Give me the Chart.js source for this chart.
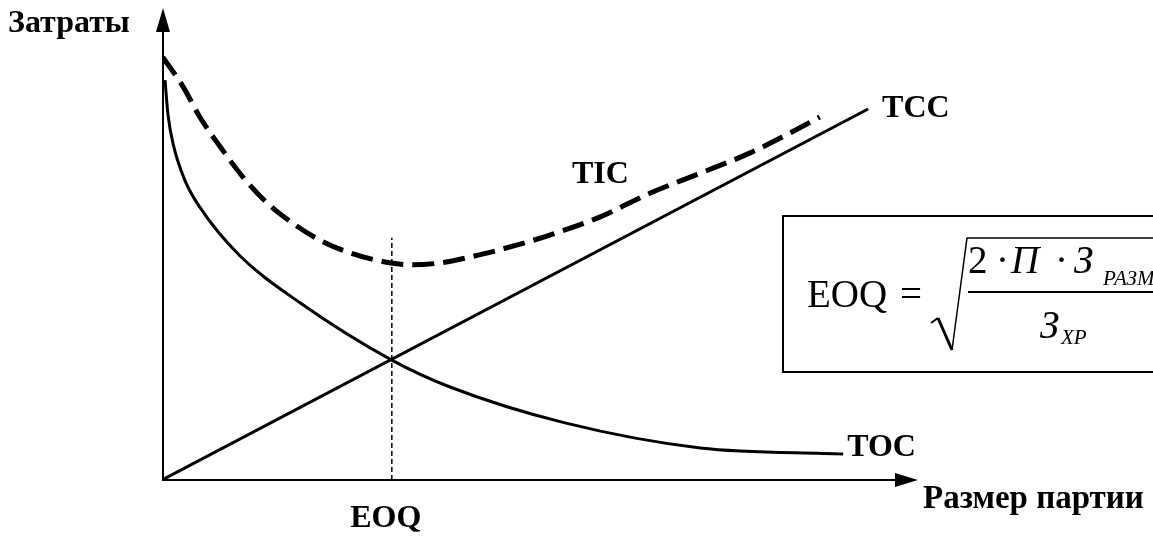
<!DOCTYPE html>
<html>
<head>
<meta charset="utf-8">
<script src="https://cdn.jsdelivr.net/npm/chart.js@4"></script>
<style>
  body { margin: 0; background: #fff; }
  canvas { display: block; }
</style>
</head>
<body>
<canvas id="eoqChart" width="1153" height="537"></canvas>
<script>
// values, axis 0..100 in both directions
const tocX = [0.4, 0.8, 1.5, 3.0, 5.0, 10.3, 18.3, 30.4, 38.1, 53.3, 71.2, 90.1];
const tocY = [84.7, 77.3, 71.0, 63.6, 57.8, 47.5, 37.5, 25.4, 19.7, 12.1, 6.8, 5.5];

const tccX = [0, 93.4];
const tccY = [0, 78.6];

const ticX = [0.1, 2.8, 5.0, 7.7, 10.7, 13.9, 17.3, 20.9, 24.9, 29.5, 33.1, 36.8, 42.5, 47.0, 51.3, 57.9, 64.6, 71.2, 77.8, 82.1, 87.0];
const ticY = [89.6, 83.3, 76.9, 70.6, 64.2, 58.7, 54.4, 50.8, 48.1, 46.2, 45.6, 46.0, 47.9, 49.8, 51.9, 55.7, 60.8, 65.0, 69.3, 72.7, 76.9];

const eoqX = [30.4, 30.4];
const eoqY = [0, 51.3];

const yTitle = 'Затраты';
const xTitle = 'Размер партии';

function pts(xs, ys) {
    return xs.map((x, i) => ({ x: x, y: ys[i] }));
}

const SERIF = '"Liberation Serif", "Times New Roman", serif';
const BOLD = 'bold 32px ' + SERIF;

// axes with arrows, curve labels and the formula box
const decorPlugin = {
    id: 'decor',
    afterDraw(chart) {
        const ctx = chart.ctx;
        const a = chart.chartArea;
        const sx = chart.scales.x;
        const sy = chart.scales.y;
        ctx.save();
        ctx.strokeStyle = '#000';
        ctx.fillStyle = '#000';
        ctx.lineWidth = 2;

        // y axis
        ctx.beginPath();
        ctx.moveTo(a.left + 1, a.bottom);
        ctx.lineTo(a.left + 1, a.top + 20);
        ctx.stroke();
        ctx.beginPath();
        ctx.moveTo(a.left + 1, a.top);
        ctx.lineTo(a.left - 6, a.top + 24);
        ctx.lineTo(a.left + 8, a.top + 24);
        ctx.closePath();
        ctx.fill();

        // x axis
        ctx.beginPath();
        ctx.moveTo(a.left, a.bottom);
        ctx.lineTo(a.right - 18, a.bottom);
        ctx.stroke();
        ctx.beginPath();
        ctx.moveTo(a.right, a.bottom);
        ctx.lineTo(a.right - 23, a.bottom - 7);
        ctx.lineTo(a.right - 23, a.bottom + 7);
        ctx.closePath();
        ctx.fill();

        // labels
        ctx.font = BOLD;
        ctx.textBaseline = 'alphabetic';
        ctx.textAlign = 'left';
        ctx.fillText(yTitle, 8, 32);
        ctx.font = 'bold 33px ' + SERIF;
        ctx.fillText(xTitle, 923, 508);
        ctx.font = BOLD;
        ctx.fillText('TCC', sx.getPixelForValue(tccX[1]) + 14, sy.getPixelForValue(tccY[1]) + 8);
        ctx.fillText('TOC', sx.getPixelForValue(tocX[tocX.length - 1]) + 4, sy.getPixelForValue(tocY[tocY.length - 1]) + 2);
        ctx.fillText('TIC', 572, 183);
        ctx.textAlign = 'center';
        ctx.fillText('EOQ', sx.getPixelForValue(eoqX[0]) - 6, 527);

        // formula box
        ctx.lineWidth = 2;
        ctx.strokeRect(783, 216, 420, 156);

        ctx.textAlign = 'left';
        const reg = '39px ' + SERIF;
        const ita = 'italic 39px ' + SERIF;
        const sub = 'italic 21px ' + SERIF;
        ctx.font = reg;
        ctx.fillText('EOQ', 807, 307);
        ctx.fillText('=', 900, 307);

        // radical
        ctx.lineWidth = 2;
        ctx.beginPath();
        ctx.moveTo(931, 323);
        ctx.lineTo(938, 318);
        ctx.stroke();
        ctx.lineWidth = 3;
        ctx.beginPath();
        ctx.moveTo(938, 318);
        ctx.lineTo(952, 350);
        ctx.stroke();
        ctx.lineWidth = 1.5;
        ctx.beginPath();
        ctx.moveTo(952, 350);
        ctx.lineTo(967, 238);
        ctx.lineTo(1160, 238);
        ctx.stroke();

        // fraction bar
        ctx.lineWidth = 2;
        ctx.beginPath();
        ctx.moveTo(968, 292);
        ctx.lineTo(1160, 292);
        ctx.stroke();

        // numerator
        ctx.font = reg;
        ctx.fillText('2', 968, 273);
        ctx.fillText('·', 996, 273);
        ctx.font = ita;
        ctx.fillText('П', 1011, 273);
        ctx.font = reg;
        ctx.fillText('·', 1055, 273);
        ctx.font = ita;
        ctx.fillText('З', 1074, 273);
        ctx.font = sub;
        ctx.fillText('РАЗМ', 1103, 285);

        // denominator
        ctx.font = ita;
        ctx.fillText('З', 1040, 338);
        ctx.font = sub;
        ctx.fillText('ХР', 1061, 344);

        ctx.restore();
    }
};

const ctx = document.getElementById('eoqChart').getContext('2d');

new Chart(ctx, {
    type: 'line',
    data: {
        datasets: [
            {
                label: 'EOQ',
                data: pts(eoqX, eoqY),
                borderColor: '#000',
                borderWidth: 1.5,
                borderDash: [5, 3],
                pointRadius: 0,
                tension: 0
            },
            {
                label: 'TCC',
                data: pts(tccX, tccY),
                borderColor: '#000',
                borderWidth: 3,
                pointRadius: 0,
                tension: 0
            },
            {
                label: 'TOC',
                data: pts(tocX, tocY),
                borderColor: '#000',
                borderWidth: 3,
                pointRadius: 0,
                cubicInterpolationMode: 'monotone'
            },
            {
                label: 'TIC',
                data: pts(ticX, ticY),
                borderColor: '#000',
                borderWidth: 5,
                borderDash: [22, 9],
                pointRadius: 0,
                cubicInterpolationMode: 'monotone'
            }
        ]
    },
    options: {
        responsive: false,
        animation: false,
        layout: { padding: { left: 162, right: 235, top: 8, bottom: 57 } },
        plugins: {
            legend: { display: false },
            tooltip: { enabled: false }
        },
        scales: {
            x: { type: 'linear', min: 0, max: 100, display: false },
            y: { type: 'linear', min: 0, max: 100, display: false }
        }
    },
    plugins: [decorPlugin]
});
</script>
</body>
</html>
